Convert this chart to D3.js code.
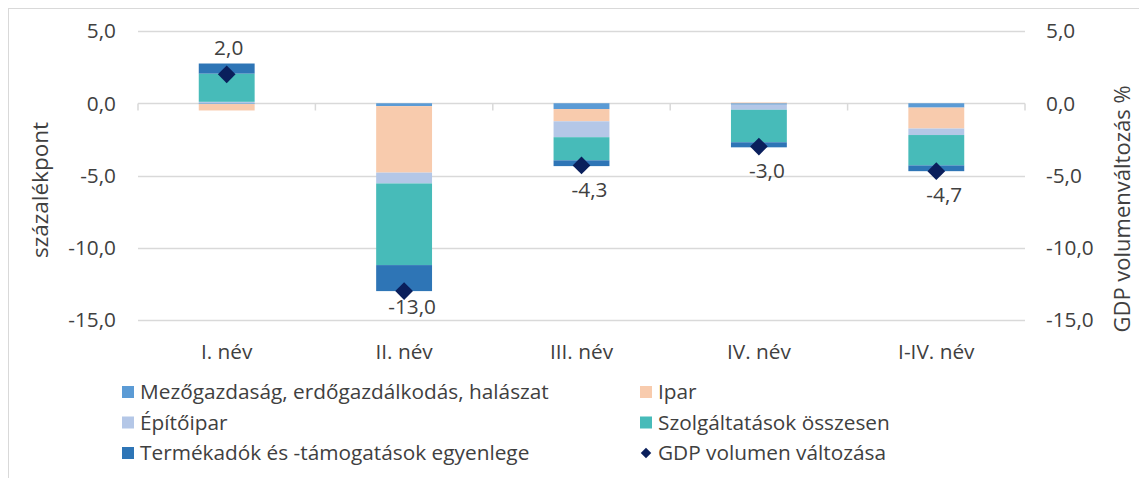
<!DOCTYPE html>
<html>
<head>
<meta charset="utf-8">
<script src="https://cdn.jsdelivr.net/npm/d3@7"></script>
<style>
  body { margin: 0; background: #fff; }
  text { font-family: "Open Sans", "Noto Sans", sans-serif; fill: #404040; }
</style>
</head>
<body>
<script>
// categories and series (percentage points)
const categories = ['I. név', 'II. név', 'III. név', 'IV. név', 'I-IV. név'];
const seriesNames = ['Mezőgazdaság, erdőgazdálkodás, halászat', 'Ipar', 'Építőipar',
    'Szolgáltatások összesen', 'Termékadók és -támogatások egyenlege'];
const agri = [-0.05, -0.2, -0.4, -0.1, -0.3];
const ipar = [-0.45, -4.6, -0.85, 0.05, -1.45];
const epitoipar = [0.1, -0.75, -1.1, -0.35, -0.45];
const szolg = [1.95, -5.65, -1.6, -2.25, -2.1];
const termek = [0.7, -1.8, -0.4, -0.35, -0.4];
const gdp = [2.0, -13.0, -4.3, -3.0, -4.7];
const gdpName = 'GDP volumen változása';
const yTicks = [5, 0, -5, -10, -15];

const colors = ['#5b9bd5', '#f8cbad', '#b4c7e7', '#47bbb9', '#2e75b6'];
const gdpColor = '#0a1f5c';

const width = 1139, height = 478;
const margin = {left: 138, right: 114, top: 31, bottom: 158};
const fontSize = '20.8px';

const svg = d3.select('body').append('svg')
    .attr('width', width)
    .attr('height', height);

// outer chart border
svg.append('rect')
    .attr('x', 8.5).attr('y', 8.5)
    .attr('width', width).attr('height', height)
    .attr('fill', 'none').attr('stroke', '#d9d9d9');

const x = d3.scaleBand()
    .domain(categories)
    .range([margin.left, width - margin.right])
    .paddingInner(0.685).paddingOuter(0.3425);

const y = d3.scaleLinear()
    .domain([-15, 5])
    .range([height - margin.bottom, margin.top]);

const fmt = v => d3.format('.1f')(v).replace('.', ',').replace('−', '-');

// gridlines
svg.append('g')
    .selectAll('line')
    .data(yTicks)
    .join('line')
    .attr('x1', margin.left).attr('x2', width - margin.right)
    .attr('y1', d => Math.round(y(d)) + 0.5).attr('y2', d => Math.round(y(d)) + 0.5)
    .attr('stroke', '#d9d9d9').attr('stroke-width', 1.5);

// left axis labels
svg.append('g')
    .selectAll('text')
    .data(yTicks)
    .join('text')
    .attr('x', 116).attr('y', d => y(d))
    .attr('dy', '0.35em')
    .attr('text-anchor', 'end')
    .style('font-size', fontSize)
    .text(fmt);

// right axis labels
svg.append('g')
    .selectAll('text')
    .data(yTicks)
    .join('text')
    .attr('x', 1046).attr('y', d => y(d))
    .attr('dy', '0.35em')
    .style('font-size', fontSize)
    .text(fmt);

// stacked bars (positives up, negatives down from zero)
const table = categories.map((c, i) => ({
    cat: c, vals: [agri[i], ipar[i], epitoipar[i], szolg[i], termek[i]]
}));
const rects = [];
table.forEach(row => {
    let pos = 0, neg = 0;
    row.vals.forEach((v, k) => {
        let y0, y1;
        if (v >= 0) { y0 = pos; y1 = pos + v; pos = y1; }
        else { y0 = neg; y1 = neg + v; neg = y1; }
        rects.push({cat: row.cat, k, y0, y1});
    });
});

svg.append('g')
    .selectAll('rect')
    .data(rects)
    .join('rect')
    .attr('x', d => x(d.cat))
    .attr('width', x.bandwidth())
    .attr('y', d => y(Math.max(d.y0, d.y1)))
    .attr('height', d => Math.abs(y(d.y0) - y(d.y1)))
    .attr('fill', d => colors[d.k]);

// category axis on the zero line
const xAxis = svg.append('g')
    .attr('transform', `translate(0,${Math.round(y(0)) + 0.5})`);
const bounds = categories.map(c => x(c) - x.step() * x.paddingInner() / 2)
    .concat([width - margin.right]);
xAxis.selectAll('line.tick')
    .data(bounds)
    .join('line')
    .attr('class', 'tick')
    .attr('x1', d => d).attr('x2', d => d)
    .attr('y1', 0).attr('y2', 7)
    .attr('stroke', '#d9d9d9').attr('stroke-width', 1.5);

svg.append('g')
    .selectAll('text')
    .data(categories)
    .join('text')
    .attr('x', d => x(d) + x.bandwidth() / 2)
    .attr('y', 352)
    .attr('dy', '0.35em')
    .attr('text-anchor', 'middle')
    .style('font-size', fontSize)
    .text(d => d);

// GDP markers
const diamond = d3.symbol().type(d3.symbolDiamond2).size(200);
svg.append('g')
    .selectAll('path')
    .data(gdp)
    .join('path')
    .attr('transform', (d, i) => `translate(${x(categories[i]) + x.bandwidth() / 2},${y(d)})`)
    .attr('d', diamond)
    .attr('fill', gdpColor);

// GDP labels
svg.append('g')
    .selectAll('text')
    .data(gdp)
    .join('text')
    .attr('x', (d, i) => x(categories[i]) + x.bandwidth() / 2 + (d < 0 ? 8 : 2))
    .attr('y', d => d >= 0 ? y(d) - 27 : Math.min(y(d) + 24, y(-15) - 13))
    .attr('dy', '0.35em')
    .attr('text-anchor', 'middle')
    .style('font-size', fontSize)
    .text(fmt);

// axis titles
svg.append('text')
    .attr('transform', 'translate(40,190) rotate(-90)')
    .attr('dy', '0.35em')
    .attr('text-anchor', 'middle')
    .style('font-size', '22.5px')
    .text('százalékpont');
svg.append('text')
    .attr('transform', 'translate(1122,209) rotate(-90)')
    .attr('dy', '0.35em')
    .attr('text-anchor', 'middle')
    .style('font-size', '22px')
    .text('GDP volumenváltozás %');

// legend
const legendItems = seriesNames.map((n, k) => ({name: n, color: colors[k], type: 'rect'}))
    .concat([{name: gdpName, color: gdpColor, type: 'diamond'}]);
const legendOrder = [0, 2, 4, 1, 3, 5];
const legend = svg.append('g')
    .selectAll('g')
    .data(legendOrder.map(i => legendItems[i]))
    .join('g')
    .attr('transform', (d, i) => `translate(${i < 3 ? 122 : 640},${392 + (i % 3) * 30.5})`);
legend.filter(d => d.type === 'rect').append('rect')
    .attr('x', 0).attr('y', -6).attr('width', 12).attr('height', 12)
    .attr('fill', d => d.color);
legend.filter(d => d.type === 'diamond').append('path')
    .attr('transform', 'translate(6,0)')
    .attr('d', d3.symbol().type(d3.symbolDiamond2).size(70))
    .attr('fill', d => d.color);
legend.append('text')
    .attr('x', 18).attr('dy', '0.35em')
    .style('font-size', fontSize)
    .text(d => d.name);
</script>
</body>
</html>
